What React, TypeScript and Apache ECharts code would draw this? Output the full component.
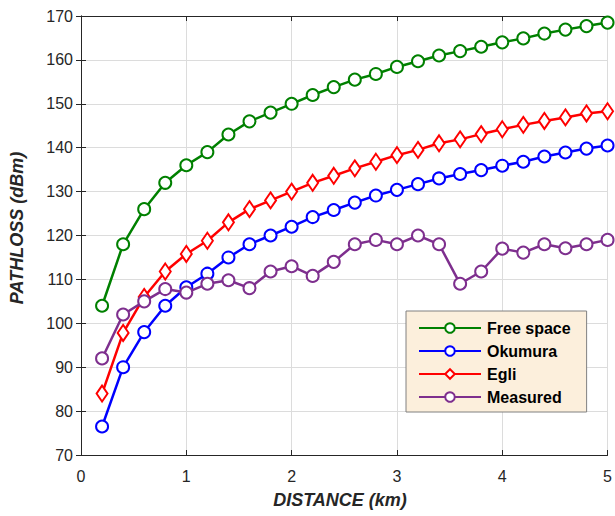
import React, { useEffect, useRef } from "react";
import * as echarts from "echarts";

const distances = [0.2, 0.4, 0.6, 0.8, 1.0, 1.2, 1.4, 1.6, 1.8, 2.0, 2.2, 2.4, 2.6, 2.8, 3.0, 3.2, 3.4, 3.6, 3.8, 4.0, 4.2, 4.4, 4.6, 4.8, 5.0];
const freeSpace = [104, 118, 126, 132, 136, 139, 143, 146, 148, 150, 152, 153.8, 155.5, 156.8, 158.4, 159.7, 161, 162, 163, 164, 164.9, 166, 166.9, 167.7, 168.5];
const okumura = [76.5, 90, 98, 104, 108.2, 111.3, 115, 118, 120, 122, 124.2, 125.8, 127.5, 129.1, 130.4, 131.7, 133, 134, 134.9, 135.9, 136.8, 138, 138.9, 139.8, 140.5];
const egli = [84, 97.8, 106, 111.8, 115.8, 118.8, 123, 126, 128, 130, 132, 133.6, 135.3, 136.8, 138.3, 139.5, 141, 141.9, 143.1, 144.2, 145.2, 146.1, 146.9, 147.8, 148.3];
const measured = [92, 102, 105, 107.8, 107, 109, 109.8, 108, 111.8, 113, 110.8, 114, 118, 119, 118, 120, 118, 109, 111.8, 117, 116.1, 118, 117.1, 118, 119];
const seriesNames = ["Free space", "Okumura", "Egli", "Measured"];
const seriesColors = ["#008000", "#0000FF", "#FF0000", "#7E2F8E"];

const pairs = (ys: number[]) => distances.map((d, i) => [d, ys[i]]);

export default function App() {
  const ref = useRef<HTMLDivElement>(null);
  useEffect(() => {
    if (!ref.current) return;
    const chart = echarts.init(ref.current, undefined, { renderer: "svg" });
    const allData = [freeSpace, okumura, egli, measured];
    const font = "'Liberation Sans', Arial, sans-serif";
    chart.setOption({
      animation: false,
      backgroundColor: "#ffffff",
      grid: { left: 81, right: 3, top: 16, bottom: 61, containLabel: false },
      xAxis: [
        {
          type: "value", min: 0, max: 5, interval: 1,
          axisLine: { show: true, lineStyle: { color: "#262626", width: 1 } },
          axisTick: { show: true, inside: true, length: 5, lineStyle: { color: "#262626" } },
          axisLabel: { color: "#262626", fontSize: 16, margin: 13, fontFamily: font },
          splitLine: { show: true, lineStyle: { color: "#DCDCDC", width: 1 } },
        },
        {
          type: "value", min: 0, max: 5, interval: 1, position: "top",
          axisLine: { show: true, lineStyle: { color: "#262626", width: 1 } },
          axisTick: { show: true, inside: true, length: 5, lineStyle: { color: "#262626" } },
          axisLabel: { show: false },
          splitLine: { show: false },
        },
      ],
      yAxis: [
        {
          type: "value", min: 70, max: 170, interval: 10,
          axisLine: { show: true, lineStyle: { color: "#262626", width: 1 } },
          axisTick: { show: true, inside: true, length: 5, lineStyle: { color: "#262626" } },
          axisLabel: { color: "#262626", fontSize: 16, margin: 8, fontFamily: font },
          splitLine: { show: true, lineStyle: { color: "#DCDCDC", width: 1 } },
        },
        {
          type: "value", min: 70, max: 170, interval: 10, position: "right",
          axisLine: { show: true, lineStyle: { color: "#262626", width: 1 } },
          axisTick: { show: true, inside: true, length: 5, lineStyle: { color: "#262626" } },
          axisLabel: { show: false },
          splitLine: { show: false },
        },
      ],
      legend: {
        orient: "vertical",
        left: 406,
        top: 311,
        padding: [9, 16, 7, 12],
        itemWidth: 62,
        itemHeight: 12,
        itemGap: 7,
        backgroundColor: "#FCEFDC",
        borderColor: "#808080",
        borderWidth: 1,
        borderRadius: 0,
        textStyle: { fontSize: 16, fontWeight: "bold", color: "#000000", fontFamily: font, padding: [0, 0, 0, 1] },
        data: seriesNames,
      },
      series: seriesNames.map((name, i) => ({
        name,
        type: "line",
        xAxisIndex: 0,
        yAxisIndex: 0,
        data: pairs(allData[i]),
        symbol: i === 2 ? "emptyDiamond" : "emptyCircle",
        symbolSize: i === 2 ? [11, 16] : 12,
        showAllSymbol: true,
        lineStyle: { color: seriesColors[i], width: 2.5 },
        itemStyle: { color: seriesColors[i], borderColor: seriesColors[i], borderWidth: 2.5 },
        emphasis: { disabled: true },
        z: 2 + i,
        clip: false,
      })),
      graphic: [
        {
          type: "text",
          x: 340,
          y: 500,
          style: {
            text: "DISTANCE (km)",
            font: `italic bold 18px ${font}`,
            fill: "#262626",
            textAlign: "center",
            textVerticalAlign: "middle",
          },
        },
        {
          type: "text",
          x: 17,
          y: 228,
          rotation: Math.PI / 2,
          style: {
            text: "PATHLOSS (dBm)",
            font: `italic bold 18px ${font}`,
            fill: "#262626",
            textAlign: "center",
            textVerticalAlign: "middle",
          },
        },
      ],
    });
    return () => chart.dispose();
  }, []);
  return <div ref={ref} style={{ position: "fixed", left: 0, top: 0, width: 615, height: 516 }} />;
}
